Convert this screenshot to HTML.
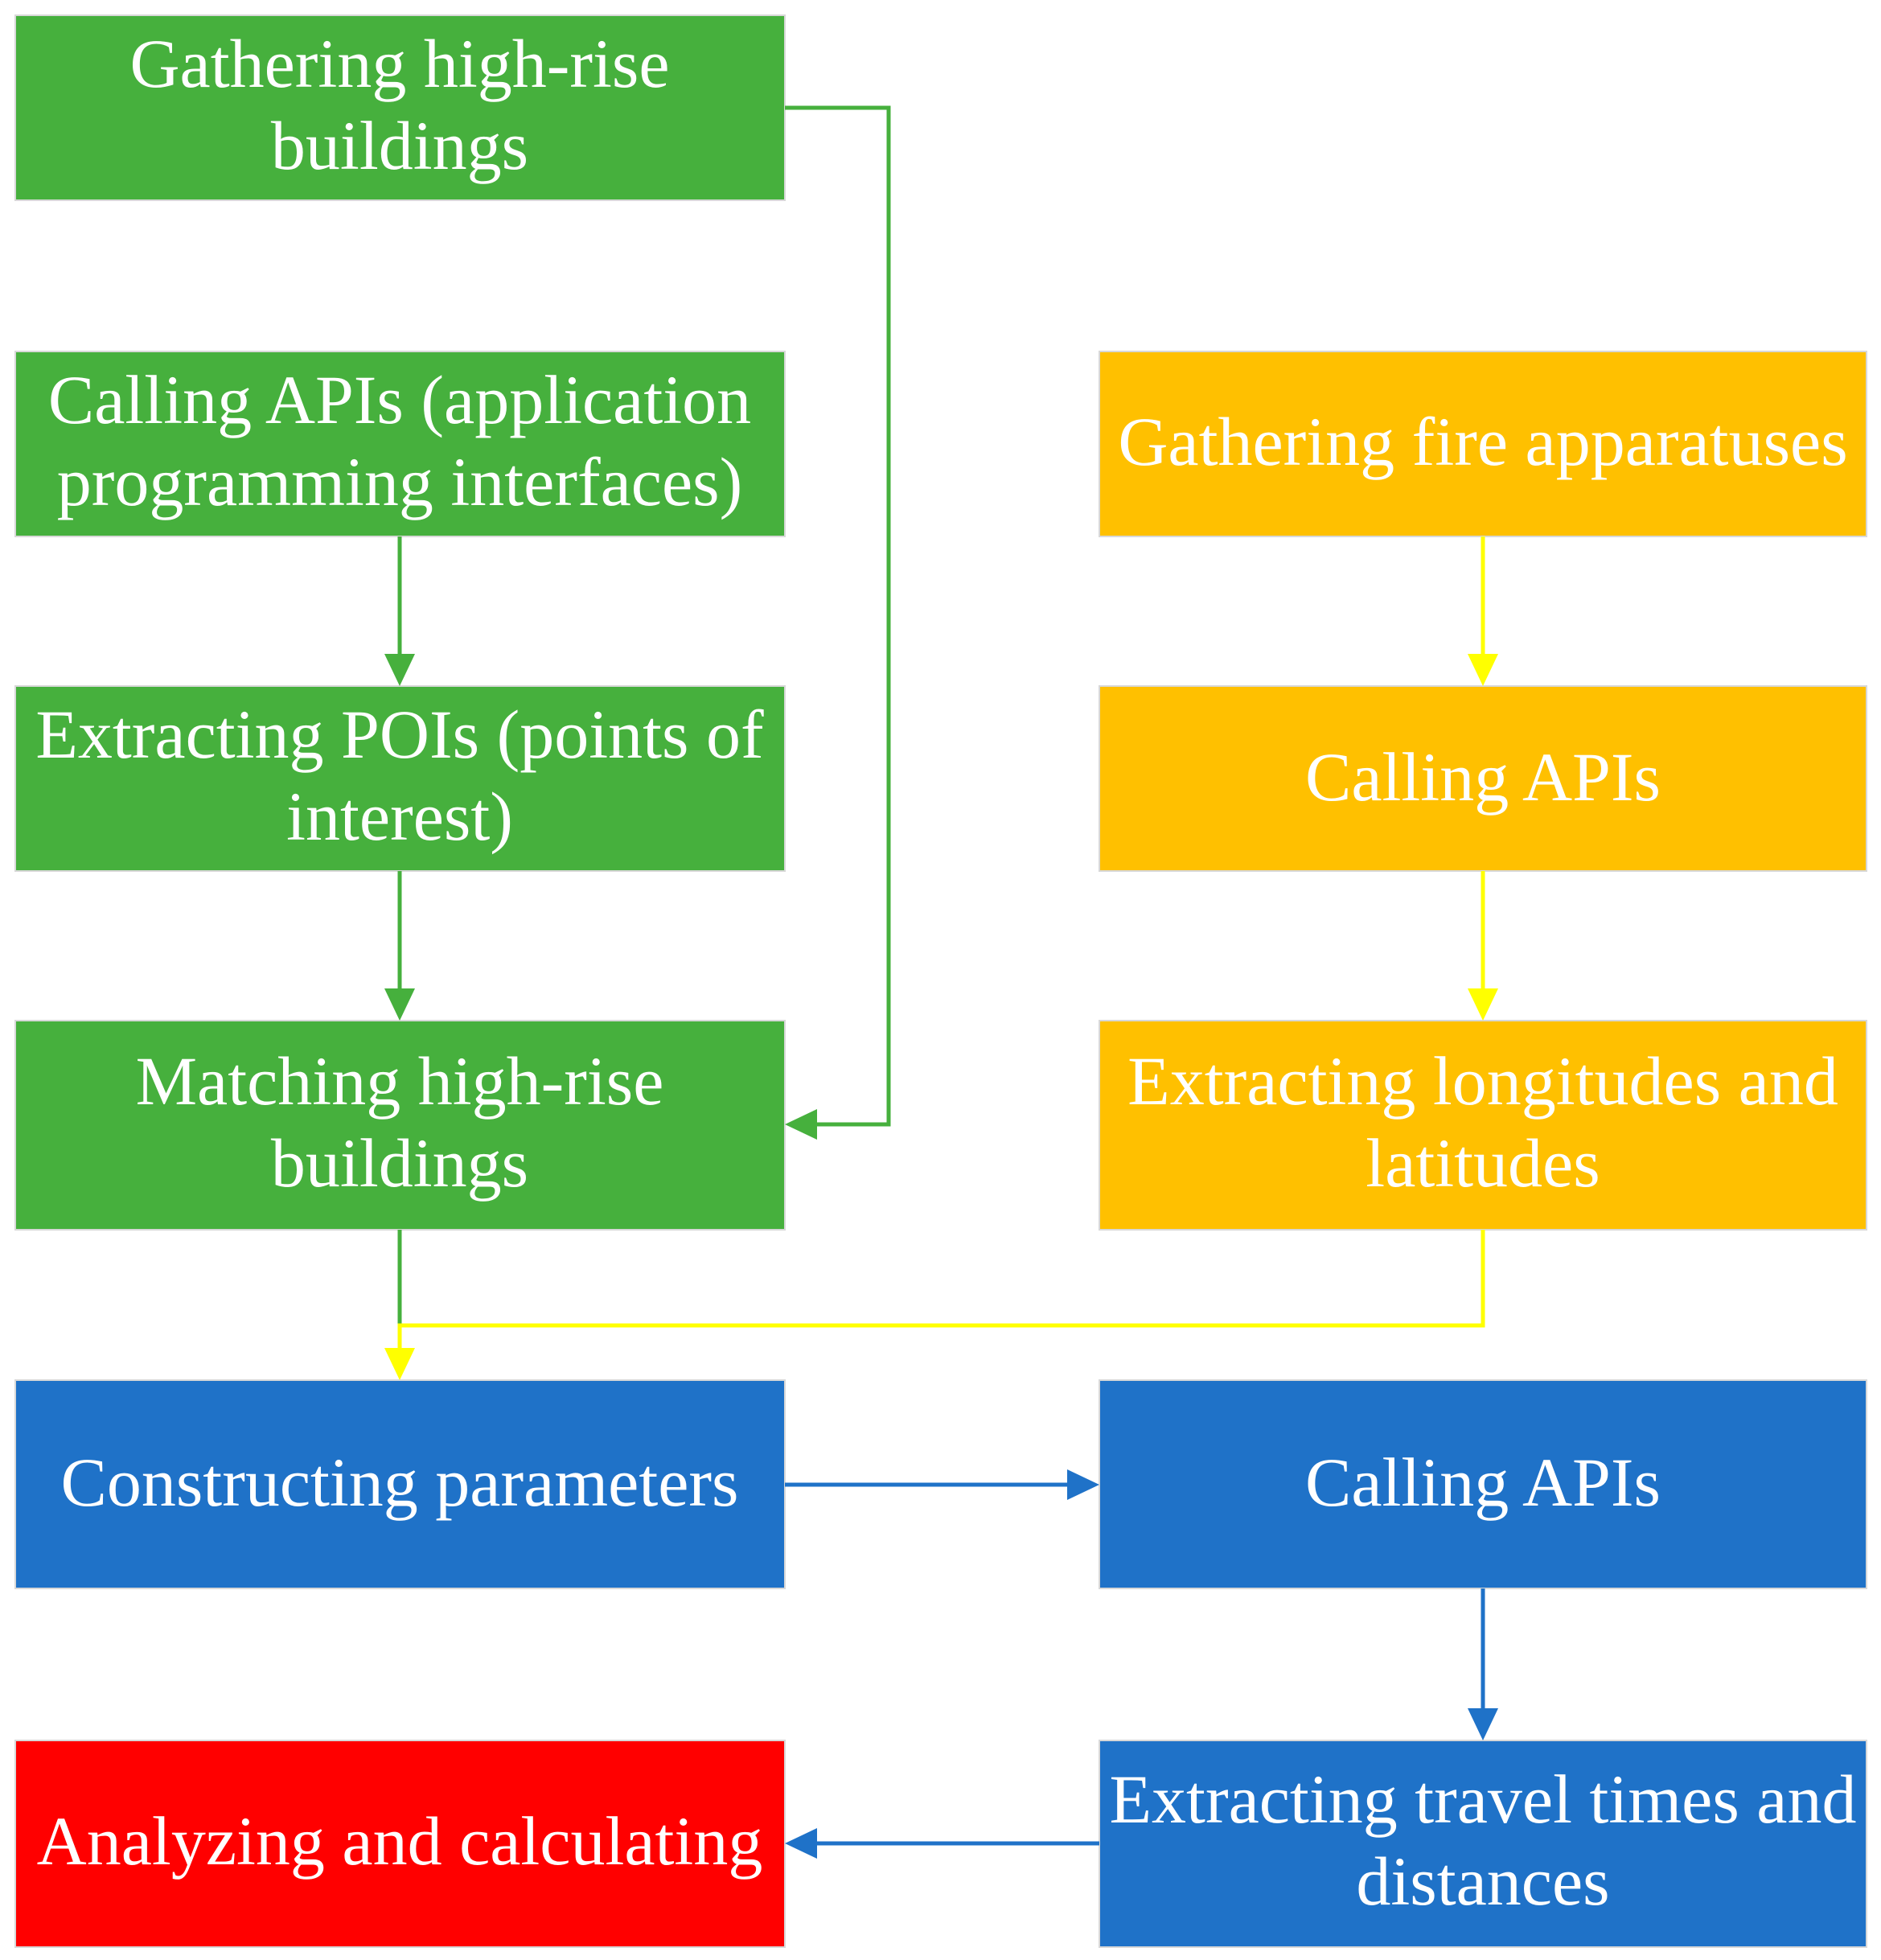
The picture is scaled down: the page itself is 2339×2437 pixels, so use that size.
<!DOCTYPE html>
<html><head><meta charset="utf-8"><style>
html,body{margin:0;padding:0;background:#fff;}
svg{display:block;}
text{font-family:"Liberation Serif",serif;font-size:86px;fill:#fff;text-anchor:middle;}
</style></head><body>
<svg width="2339" height="2437" viewBox="0 0 2339 2437" xmlns="http://www.w3.org/2000/svg">
<g stroke="#d8d8d8" stroke-width="2">
<rect x="19" y="19" width="957" height="230" fill="#46b03d"/>
<rect x="19" y="437" width="957" height="230" fill="#46b03d"/>
<rect x="19" y="853" width="957" height="230" fill="#46b03d"/>
<rect x="19" y="1269" width="957" height="260" fill="#46b03d"/>
<rect x="1367" y="437" width="954" height="230" fill="#ffc000"/>
<rect x="1367" y="853" width="954" height="230" fill="#ffc000"/>
<rect x="1367" y="1269" width="954" height="260" fill="#ffc000"/>
<rect x="19" y="1716" width="957" height="259" fill="#1f72c8"/>
<rect x="1367" y="1716" width="954" height="259" fill="#1f72c8"/>
<rect x="19" y="2164" width="957" height="257" fill="#ff0000"/>
<rect x="1367" y="2164" width="954" height="257" fill="#1f72c8"/>
</g>
<g fill="none" stroke-width="5">
<polyline points="976,134 1105,134 1105,1398 1010,1398" stroke="#46b03d"/>
<line x1="497" y1="667" x2="497" y2="820" stroke="#46b03d"/>
<line x1="497" y1="1083" x2="497" y2="1236" stroke="#46b03d"/>
<line x1="497" y1="1529" x2="497" y2="1648" stroke="#46b03d"/>
<line x1="1844" y1="667" x2="1844" y2="820" stroke="#ffff00"/>
<line x1="1844" y1="1083" x2="1844" y2="1236" stroke="#ffff00"/>
<polyline points="1844,1529 1844,1648 497,1648 497,1684" stroke="#ffff00"/>
<line x1="976" y1="1846" x2="1334" y2="1846" stroke="#1f72c8"/>
<line x1="1844" y1="1975" x2="1844" y2="2131" stroke="#1f72c8"/>
<line x1="1367" y1="2292" x2="1010" y2="2292" stroke="#1f72c8"/>
</g>
<polygon points="976,1398 1016,1379 1016,1417" fill="#46b03d"/>
<polygon points="497,853 478,813 516,813" fill="#46b03d"/>
<polygon points="497,1269 478,1229 516,1229" fill="#46b03d"/>
<polygon points="1844,853 1825,813 1863,813" fill="#ffff00"/>
<polygon points="1844,1269 1825,1229 1863,1229" fill="#ffff00"/>
<polygon points="497,1716 478,1676 516,1676" fill="#ffff00"/>
<polygon points="1367,1846 1327,1827 1327,1865" fill="#1f72c8"/>
<polygon points="1844,2164 1825,2124 1863,2124" fill="#1f72c8"/>
<polygon points="976,2292 1016,2273 1016,2311" fill="#1f72c8"/>
<text x="497" y="108">Gathering high-rise</text>
<text x="497" y="210">buildings</text>
<text x="497" y="526">Calling APIs (application</text>
<text x="497" y="628">programming interfaces)</text>
<text x="497" y="942">Extracting POIs (points of</text>
<text x="497" y="1044">interest)</text>
<text x="497" y="1373">Matching high-rise</text>
<text x="497" y="1475">buildings</text>
<text x="1844" y="578">Gathering fire apparatuses</text>
<text x="1844" y="995">Calling APIs</text>
<text x="1844" y="1373">Extracting longitudes and</text>
<text x="1844" y="1475">latitudes</text>
<text x="497" y="1872">Constructing parameters</text>
<text x="1844" y="1872">Calling APIs</text>
<text x="497" y="2318">Analyzing and calculating</text>
<text x="1844" y="2266">Extracting travel times and</text>
<text x="1844" y="2368">distances</text>
</svg>
</body></html>
